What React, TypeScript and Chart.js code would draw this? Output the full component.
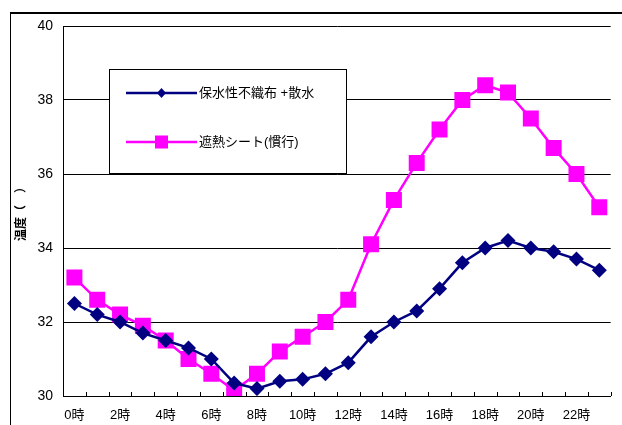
import React, { useEffect, useRef } from "react";
import { Chart, registerables } from "chart.js";

Chart.register(...registerables);

const hours: string[] = [
  "0時", "1時", "2時", "3時", "4時", "5時", "6時", "7時", "8時", "9時", "10時", "11時",
  "12時", "13時", "14時", "15時", "16時", "17時", "18時", "19時", "20時", "21時", "22時", "23時",
];

const seriesWetCloth: number[] = [
  32.5, 32.2, 32.0, 31.7, 31.5, 31.3, 31.0, 30.35, 30.2, 30.4, 30.45, 30.6,
  30.9, 31.6, 32.0, 32.3, 32.9, 33.6, 34.0, 34.2, 34.0, 33.9, 33.7, 33.4,
];

const seriesShade: number[] = [
  33.2, 32.6, 32.2, 31.9, 31.5, 31.0, 30.6, 30.15, 30.6, 31.2, 31.6, 32.0,
  32.6, 34.1, 35.3, 36.3, 37.2, 38.0, 38.4, 38.2, 37.5, 36.7, 36.0, 35.1,
];

const seriesNames: string[] = ["保水性不織布 +散水", "遮熱シート(慣行)"];
const yTicks: number[] = [30, 32, 34, 36, 38, 40];
const yTitle = "温度（　）";

const FONT = "'Liberation Sans', 'Noto Sans CJK JP', Arial, sans-serif";

const framePlugin = {
  id: "frame",
  beforeDraw(chart: any) {
    const ctx = chart.ctx;
    ctx.save();
    ctx.fillStyle = "#fff";
    ctx.fillRect(0, 0, chart.width, chart.height);
    ctx.strokeStyle = "#000";
    ctx.lineWidth = 2;
    ctx.beginPath();
    ctx.moveTo(10, 13);
    ctx.lineTo(chart.width, 13);
    ctx.stroke();
    ctx.lineWidth = 1;
    ctx.beginPath();
    ctx.moveTo(10.5, 12);
    ctx.lineTo(10.5, chart.height);
    ctx.stroke();
    ctx.restore();
  },
  afterDraw(chart: any) {
    const ctx = chart.ctx;
    const area = chart.chartArea;
    ctx.save();
    // inside tick marks on x axis at category boundaries
    ctx.strokeStyle = "#000";
    ctx.lineWidth = 1;
    const n = hours.length;
    const step = (area.right - area.left) / n;
    ctx.beginPath();
    for (let k = 0; k <= n; k++) {
      const x = Math.round(area.left + k * step) + 0.5;
      ctx.moveTo(x, area.bottom);
      ctx.lineTo(x, area.bottom - 4);
    }
    ctx.stroke();
    // y title
    ctx.fillStyle = "#000";
    ctx.font = `bold 12px ${FONT}`;
    ctx.translate(22, 211);
    ctx.rotate(-Math.PI / 2);
    ctx.textAlign = "center";
    ctx.textBaseline = "middle";
    ctx.fillText(yTitle, 0, 0);
    ctx.restore();

    // legend
    ctx.save();
    const bx = 109.5, by = 69.5, bw = 237, bh = 104;
    ctx.fillStyle = "#fff";
    ctx.fillRect(bx, by, bw, bh);
    ctx.strokeStyle = "#000";
    ctx.lineWidth = 1;
    ctx.strokeRect(bx, by, bw, bh);
    const ds = chart.data.datasets;
    const rows = [93, 142];
    ds.forEach((d: any, i: number) => {
      const y = rows[i];
      ctx.strokeStyle = d.borderColor;
      ctx.lineWidth = 2.5;
      ctx.beginPath();
      ctx.moveTo(126, y);
      ctx.lineTo(197, y);
      ctx.stroke();
      ctx.fillStyle = d.backgroundColor;
      if (i === 0) {
        ctx.beginPath();
        ctx.moveTo(161.5, y - 5);
        ctx.lineTo(166, y);
        ctx.lineTo(161.5, y + 5);
        ctx.lineTo(157, y);
        ctx.closePath();
        ctx.fill();
      } else {
        ctx.fillRect(155, y - 6.5, 13, 13);
      }
      ctx.fillStyle = "#000";
      ctx.font = `13px ${FONT}`;
      ctx.textAlign = "left";
      ctx.textBaseline = "middle";
      ctx.fillText(d.label, 199, y);
    });
    ctx.restore();
  },
};

export default function App() {
  const ref = useRef<HTMLCanvasElement | null>(null);
  useEffect(() => {
    if (!ref.current) return;
    const chart = new Chart(ref.current, {
      type: "line",
      data: {
        labels: hours,
        datasets: [
          {
            label: seriesNames[0],
            data: seriesWetCloth,
            borderColor: "#000080",
            backgroundColor: "#000080",
            borderWidth: 2.5,
            pointStyle: "rectRot",
            pointRadius: 7.5,
            pointHoverRadius: 7.5,
            pointBorderWidth: 0,
            tension: 0,
          },
          {
            label: seriesNames[1],
            data: seriesShade,
            borderColor: "#FF00FF",
            backgroundColor: "#FF00FF",
            borderWidth: 2.5,
            pointStyle: "rect",
            pointRadius: 11.3,
            pointHoverRadius: 11.3,
            pointBorderWidth: 0,
            tension: 0,
          },
        ],
      },
      options: {
        responsive: false,
        animation: false,
        layout: { padding: { top: 26, right: 5, left: 0, bottom: 0 } },
        plugins: {
          legend: { display: false },
          tooltip: { enabled: false },
          title: { display: false },
        },
        scales: {
          x: {
            type: "category",
            offset: true,
            grid: { display: false, drawTicks: false },
            border: { display: true, color: "#000", width: 1 },
            ticks: {
              autoSkip: false,
              maxRotation: 0,
              padding: 12,
              color: "#000",
              font: { size: 13, family: FONT },
              callback: (_v: any, i: number) => (i % 2 === 0 ? hours[i] : ""),
            },
            afterFit: (s: any) => {
              s.height = 29;
            },
          },
          y: {
            min: yTicks[0],
            max: yTicks[yTicks.length - 1],
            afterBuildTicks: (s: any) => {
              s.ticks = yTicks.map((v) => ({ value: v }));
            },
            grid: { color: "#000", lineWidth: 1, drawTicks: false },
            border: { display: true, color: "#000", width: 1 },
            ticks: {
              padding: 10,
              color: "#000",
              font: { size: 14, family: FONT },
            },
            afterFit: (s: any) => {
              s.width = 63;
            },
          },
        },
      },
      plugins: [framePlugin],
    });
    return () => chart.destroy();
  }, []);
  return (
    <canvas
      ref={ref}
      width={622}
      height={425}
      style={{ position: "absolute", left: 0, top: 0, display: "block" }}
    />
  );
}
